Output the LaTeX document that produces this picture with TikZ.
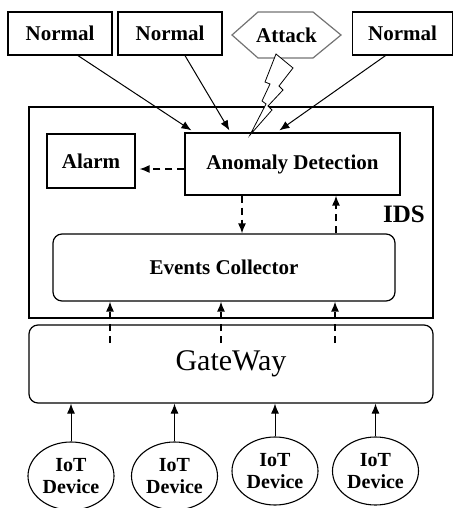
\documentclass[tikz,border=0pt]{standalone}
\usepackage{fontspec}
\setmainfont{Liberation Serif}
\usetikzlibrary{shapes.geometric,arrows.meta,positioning,calc}

\begin{document}
\begin{tikzpicture}[x=1pt, y=-1pt, >={Latex[length=10pt,width=8pt]},
    box/.style={draw, line width=1.2pt, rectangle, inner sep=0pt, font=\fontsize{21}{24}\selectfont\bfseries},
    roundbox/.style={box, rounded corners=9pt},
    device/.style={draw, line width=1.1pt, ellipse, inner sep=0pt, minimum width=86pt, minimum height=68pt, align=center, font=\fontsize{20}{22}\selectfont\bfseries},
    flow/.style={->, line width=1pt},
    dashflow/.style={->, line width=1.3pt, dash pattern=on 7pt off 5pt}]
    \useasboundingbox (0,0) rectangle (453,508);
    % Traffic sources
    \node[box, minimum width=104pt, minimum height=43pt] (normA) at (60,33.5) {Normal};
    \node[box, minimum width=104pt, minimum height=43pt] (normB) at (170,33.5) {Normal};
    \node[box, minimum width=100pt, minimum height=43pt] (normC) at (402.5,33.5) {Normal};
    \node[font=\fontsize{21}{24}\selectfont\bfseries, inner sep=0pt] (attack) at (286.5,35) {Attack};
    \draw[line width=1.2pt, black!55] (232,35) -- (258,12) -- (313,12) -- (341,35) -- (313,58) -- (258,58) -- cycle;
    % IDS
    \node[box, minimum width=404pt, minimum height=211pt] (ids) at (231,212.5) {};
    \node[font=\fontsize{25}{28}\selectfont\bfseries, inner sep=0pt] (idslabel) at (404,214) {IDS};
    \node[box, minimum width=215pt, minimum height=62pt] (ad) at (292.5,164) {Anomaly Detection};
    \node[box, minimum width=88pt, minimum height=54pt] (alarm) at (91,161) {Alarm};
    \node[roundbox, minimum width=342pt, minimum height=67pt] (ec) at (224,267.5) {Events Collector};
    % Gateway and devices
    \node[roundbox, minimum width=404pt, minimum height=78pt, font=\fontsize{30}{34}\selectfont] (gw) at (231,364) {GateWay};
    \node[device] (devA) at (71,476) {IoT\\Device};
    \node[device] (devB) at (174.5,476) {IoT\\Device};
    \node[device] (devC) at (275,471) {IoT\\Device};
    \node[device] (devD) at (375.5,471) {IoT\\Device};
    % Arrows
    \draw[flow] ([xshift=18pt]normA.south) -- ($(ad.north west)+(7,-2)$);
    \draw[flow] ([xshift=15pt]normB.south) -- ($(ad.north west)+(45,-2)$);
    \draw[flow] ([xshift=-17pt]normC.south) -- ($(ad.north west)+(95,-2)$);
    \draw[line width=0.8pt, fill=white] (276,54) -- (265,82) -- (270,84) -- (262,101) -- (266,104) -- (250,135)
        -- (272,110) -- (268,106) -- (283,90) -- (279,86) -- (293,68) -- cycle;
    \draw[dashflow] ([yshift=-5pt]ad.west) -- ($([yshift=-5pt]ad.west -| alarm.east)+(4,0)$);
    \draw[dashflow] (ad.south -| 242,0) -- (ec.north -| 242,0);
    \draw[dashflow] (ec.north -| 336,0) -- (ad.south -| 336,0);
    \foreach \x/\n in {110/1, 221/2, 335/3} {
        \coordinate (g\n) at (\x,343);
        \draw[dashflow] (g\n) -- (g\n |- ec.south);
    }
    \foreach \d in {devA, devB, devC, devD}
        \draw[flow] (\d.north) -- (\d.north |- gw.south);
\end{tikzpicture}
\end{document}
